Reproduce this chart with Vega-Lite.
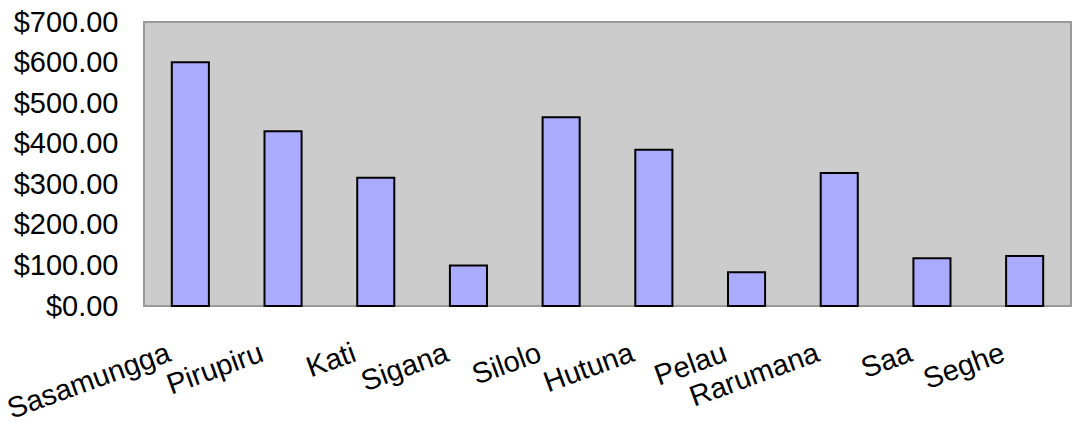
{
  "$schema": "https://vega.github.io/schema/vega-lite/v6.json",
  "width": 927,
  "height": 284,
  "autosize": {"type": "none"},
  "padding": {"left": 144, "top": 22, "right": 1, "bottom": 118},
  "background": "white",
  "config": {
    "font": "Liberation Sans",
    "view": {"fill": "#CCCCCC", "stroke": "#999999", "strokeWidth": 2}
  },
  "data": {
    "values": [
      {"village": "Sasamungga", "amount": 601},
      {"village": "Pirupiru", "amount": 431},
      {"village": "Kati", "amount": 316},
      {"village": "Sigana", "amount": 100},
      {"village": "Silolo", "amount": 465},
      {"village": "Hutuna", "amount": 385},
      {"village": "Pelau", "amount": 83},
      {"village": "Rarumana", "amount": 328},
      {"village": "Saa", "amount": 118},
      {"village": "Seghe", "amount": 123}
    ]
  },
  "mark": {"type": "bar", "fill": "#AAAAFF", "stroke": "black", "strokeWidth": 2},
  "encoding": {
    "x": {
      "field": "village",
      "type": "nominal",
      "sort": null,
      "scale": {"paddingInner": 0.6, "paddingOuter": 0.3},
      "axis": {
        "title": null,
        "ticks": false,
        "domain": false,
        "labelFontSize": 29,
        "labelColor": "black",
        "labelAngle": -20,
        "labelAlign": "right",
        "labelBaseline": "alphabetic",
        "labelPadding": 54,
        "labelOffset": -18
      }
    },
    "y": {
      "field": "amount",
      "type": "quantitative",
      "scale": {"domain": [0, 700]},
      "axis": {
        "title": null,
        "ticks": false,
        "domain": false,
        "grid": false,
        "values": [0, 100, 200, 300, 400, 500, 600, 700],
        "format": "$,.2f",
        "labelFontSize": 29,
        "labelColor": "black",
        "labelPadding": 26
      }
    }
  }
}
